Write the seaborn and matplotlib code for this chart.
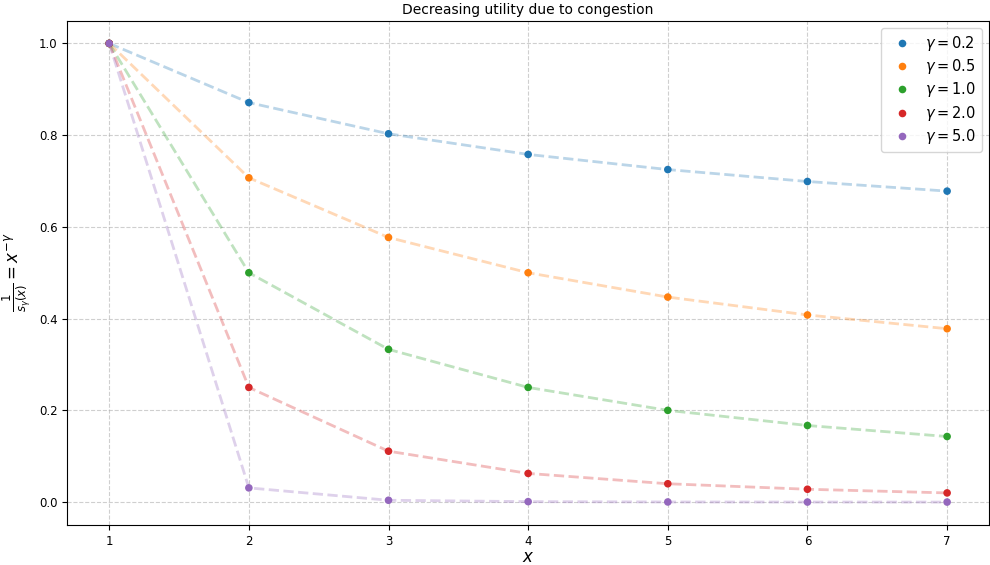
import numpy as np
import pandas as pd
import matplotlib
matplotlib.use("Agg")
import matplotlib.pyplot as plt
import seaborn as sns

# values
x_vals = [1, 2, 3, 4, 5, 6, 7]
gammas = [0.2, 0.5, 1.0, 2.0, 5.0]
u_02 = [1.0, 0.871, 0.803, 0.758, 0.725, 0.699, 0.678]
u_05 = [1.0, 0.707, 0.577, 0.500, 0.447, 0.408, 0.378]
u_10 = [1.0, 0.500, 0.333, 0.250, 0.200, 0.167, 0.143]
u_20 = [1.0, 0.250, 0.111, 0.0625, 0.040, 0.028, 0.020]
u_50 = [1.0, 0.031, 0.004, 0.001, 0.0003, 0.0001, 0.00006]
series = [u_02, u_05, u_10, u_20, u_50]

rows = []
for g, ys in zip(gammas, series):
    for x, y in zip(x_vals, ys):
        rows.append({"x": x, "u": y, "gamma": r"$\gamma = %.1f$" % g})
df = pd.DataFrame(rows)

palette = sns.color_palette("tab10", len(gammas))

fig, ax = plt.subplots(figsize=(9.9, 5.65), dpi=100)
sns.lineplot(data=df, x="x", y="u", hue="gamma", palette=palette,
             linestyle="--", alpha=0.3, linewidth=2, legend=False, ax=ax)
sns.scatterplot(data=df, x="x", y="u", hue="gamma", palette=palette,
                s=30, edgecolor="none", zorder=3, ax=ax)

ax.grid(True, linestyle="--", alpha=0.6)
ax.set_title("Decreasing utility due to congestion", fontsize=10, pad=5)
ax.set_xlabel("$x$", fontsize=12, labelpad=0)
ax.set_ylabel(r"$\frac{1}{s_\gamma(x)} = x^{-\gamma}$", fontsize=12)
ax.tick_params(labelsize=8.5)
ax.set_yticks([0.0, 0.2, 0.4, 0.6, 0.8, 1.0])
ax.legend(title=None, fontsize=10.5, loc="upper right", markerscale=1.0,
          labelspacing=0.3, handletextpad=0.6)

fig.subplots_adjust(left=0.068, right=0.999, top=1 - 20.5 / 565, bottom=1 - 525 / 565)
plt.savefig("out.png", dpi=100)
